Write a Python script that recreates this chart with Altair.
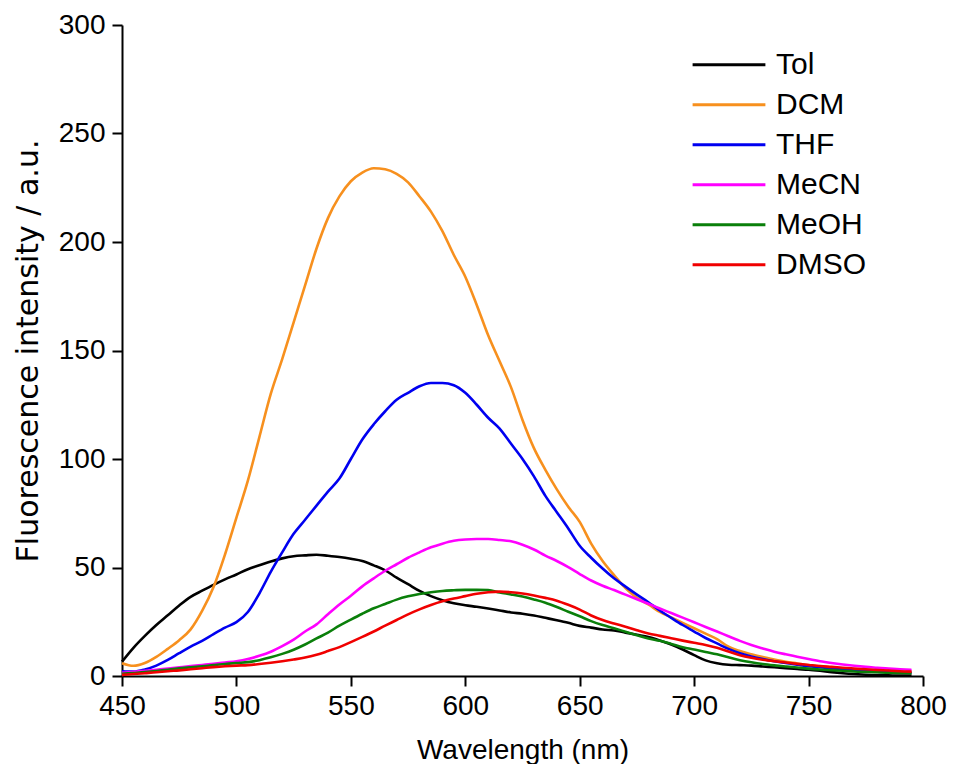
import altair as alt
import pandas as pd

wavelength = list(range(450, 800, 5))

tol = [6.6, 13, 18.5, 23.5, 28, 32.5, 36.5, 39.3, 42, 44.5, 46.8, 49.2, 51, 52.8, 54.2, 55.2, 55.6, 55.9,
       55.4, 54.8, 54, 53, 51, 48.7, 45.3, 42.3, 39.2, 36.8, 34.9, 33.5, 32.6, 31.9, 31.1, 30.2, 29.3, 28.7,
       27.9, 26.8, 25.7, 24.5, 23.1, 22.3, 21.4, 21, 20, 19, 18, 16.4, 14.5, 12.2, 9.6, 7.2, 5.9, 5.2, 5,
       4.8, 4.4, 4, 3.6, 3.2, 2.9, 2.4, 1.8, 1.3, 0.9, 0.6, 0.4, 0.3, 0.2, 0.2]
dcm = [5.9, 4.7, 6, 8.8, 12.5, 16.5, 21.5, 30, 41, 56, 73, 90, 110, 130, 146, 163, 180, 197, 211, 221,
       228, 232, 234, 233.5, 231.4, 227.5, 221, 214, 205, 194, 184, 171, 157, 145, 133, 118, 105, 95, 86,
       78, 71, 61, 53, 46.5, 40.5, 36, 33, 29.5, 27, 24.5, 22, 19.5, 17, 13.5, 11.5, 10, 8.7, 7.6, 6.6,
       5.8, 5, 4.4, 3.8, 3.3, 2.9, 2.5, 2.2, 2, 1.8, 1.7]
thf = [2.2, 2, 3, 4.8, 7.4, 10.5, 13.5, 16.2, 19.3, 22.3, 24.8, 29.5, 38, 48, 57, 65.5, 72, 78.5, 85, 91,
       100, 109, 116, 122, 127.3, 130.5, 133.5, 135, 135, 134, 130.5, 125, 119, 114, 107, 100, 92, 83,
       75.5, 68, 60, 54.5, 49.5, 45, 41.2, 37.5, 34, 30.2, 26.8, 23.5, 20.5, 17.5, 15, 12.5, 10.5, 9, 7.8,
       6.8, 6, 5.2, 4.5, 4, 3.5, 3, 2.6, 2.3, 2, 1.8, 1.6, 1.5]
mecn = [1.5, 1.9, 2.4, 2.9, 3.4, 4, 4.6, 5.1, 5.6, 6.2, 6.8, 7.8, 9.3, 11.2, 13.8, 16.8, 20.5, 23.8, 28.5,
        33, 37, 41.3, 45, 48.5, 51.5, 54.5, 57, 59.3, 61, 62.3, 62.9, 63.1, 63.1, 62.7, 62.1, 60.5, 58.3,
        55.5, 53, 50.2, 47, 44, 41.6, 39.6, 37.5, 35.4, 33.3, 31.1, 29, 26.9, 24.8, 22.6, 20.5, 18.3, 16.2,
        14.3, 12.7, 11.2, 10, 8.9, 7.8, 6.8, 6, 5.3, 4.7, 4.2, 3.8, 3.4, 3.1, 2.8]
meoh = [1, 1.4, 1.8, 2.3, 2.9, 3.5, 4, 4.5, 5, 5.5, 6, 6.4, 7.3, 8.6, 10.2, 12.1, 14.5, 17.3, 20, 23.2,
        26, 28.7, 31.2, 33.2, 35.2, 36.7, 37.8, 38.6, 39.2, 39.5, 39.7, 39.7, 39.6, 38.5, 37.6, 36.6, 35.3,
        33.8, 31.8, 29.6, 27.5, 25.3, 23.5, 22, 20.4, 18.8, 17.3, 16.2, 14.8, 13.3, 12.2, 11.1, 10, 8.6,
        7.3, 6.3, 5.5, 4.9, 4.4, 3.9, 3.4, 3, 2.7, 2.4, 2.1, 1.9, 1.7, 1.5, 1.4, 1.3]
dmso = [0.5, 0.9, 1.3, 1.7, 2.2, 2.6, 3.1, 3.6, 4.1, 4.5, 4.8, 5, 5.5, 6.1, 6.8, 7.6, 8.5, 9.8, 11.5, 13.3,
        15.6, 18, 20.5, 23.2, 25.8, 28.4, 30.7, 32.7, 34.4, 35.7, 36.8, 37.9, 38.6, 38.9, 38.6, 38, 37.1,
        36, 34.7, 32.8, 30.6, 27.9, 25.8, 24.2, 22.7, 21.1, 19.6, 18.5, 17.4, 16.3, 15.3, 14.3, 13, 11.3,
        9.6, 8.4, 7.5, 6.8, 6.2, 5.6, 5.1, 4.6, 4.2, 3.8, 3.4, 3.1, 2.8, 2.5, 2.2, 2]

solvents = ["Tol", "DCM", "THF", "MeCN", "MeOH", "DMSO"]
colors = ["#000000", "#F7901E", "#0000F0", "#FF00FF", "#0A7F0A", "#F00000"]
series = [tol, dcm, thf, mecn, meoh, dmso]

x_ticks = [450, 500, 550, 600, 650, 700, 750, 800]
y_ticks = [0, 50, 100, 150, 200, 250, 300]

rows = []
for name, vals in zip(solvents, series):
    for w, v in zip(wavelength, vals):
        rows.append({"Wavelength": w, "Intensity": v, "Solvent": name, "order": solvents.index(name)})
df = pd.DataFrame(rows)

FONT = "Liberation Sans"

chart = alt.Chart(df).mark_line(strokeWidth=2.6, interpolate="monotone").encode(
    x=alt.X("Wavelength:Q",
            scale=alt.Scale(domain=[450, 800], nice=False, zero=False),
            axis=alt.Axis(title="Wavelength (nm)", values=x_ticks, format="d",
                          grid=False, tickSize=10, tickWidth=2, domainWidth=2,
                          labelFlush=False, labelOverlap=False,
                          labelPadding=6, titlePadding=16)),
    y=alt.Y("Intensity:Q",
            scale=alt.Scale(domain=[0, 300], nice=False),
            axis=alt.Axis(title="Fluorescence intensity / a.u.", values=y_ticks,
                          grid=False, tickSize=10, tickWidth=2, domainWidth=2,
                          labelFlush=False, labelOverlap=False,
                          titleFont="DejaVu Sans", titleFontSize=30,
                          labelPadding=7, titlePadding=15)),
    color=alt.Color("Solvent:N",
                    scale=alt.Scale(domain=solvents, range=colors),
                    legend=alt.Legend(title=None, orient="none", legendX=569, legendY=20,
                                      symbolType="stroke", symbolSize=5300, symbolStrokeWidth=3,
                                      labelFontSize=30, labelFont=FONT, labelColor="#000000",
                                      labelOffset=9, rowPadding=0, clipHeight=39.5,
                                      labelLimit=300)),
    detail="Solvent:N",
    order=alt.Order("order:Q"),
).properties(
    width=801,
    height=651,
    autosize=alt.AutoSizeParams(type="none"),
    padding={"left": 114, "top": 17, "right": 24, "bottom": 88},
).configure_view(
    stroke=None
).configure_axis(
    domainColor="#000000",
    tickColor="#000000",
    labelColor="#000000",
    titleColor="#000000",
    labelFont=FONT,
    titleFont=FONT,
    labelFontSize=28,
    titleFontSize=28,
    titleFontWeight="normal",
)

chart.save("out.html", embed_options={"renderer": "svg", "actions": False})
